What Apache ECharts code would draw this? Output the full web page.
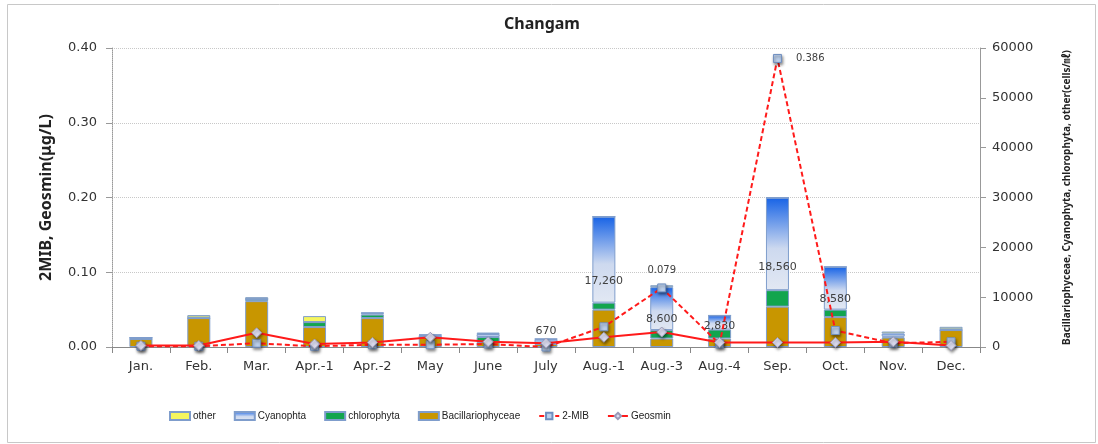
<!DOCTYPE html>
<html>
<head>
<meta charset="utf-8">
<script src="https://cdn.jsdelivr.net/npm/echarts@6/dist/echarts.min.js"></script>
<style>
  html, body { margin: 0; padding: 0; background: #fff; }
  #chart { width: 1098px; height: 444px; }
</style>
</head>
<body>
<div id="chart"></div>
<script>
// months / sampling rounds
const categories = ['Jan.', 'Feb.', 'Mar.', 'Apr.-1', 'Apr.-2', 'May', 'June', 'July', 'Aug.-1', 'Aug.-3', 'Aug.-4', 'Sep.', 'Oct.', 'Nov.', 'Dec.']

// cells/mL (right axis)
const bacillariophyceae = [1600, 5800, 9200, 4000, 5800, 2000, 1000, 600, 7500, 1700, 1700, 8100, 6000, 1900, 3400]
const chlorophyta = [0, 0, 450, 1000, 700, 0, 1000, 300, 1400, 1700, 1800, 3300, 1500, 200, 0]
const cyanophyta = [300, 100, 0, 0, 300, 400, 600, 670, 17260, 8600, 2830, 18560, 8580, 600, 150]
const other = [0, 500, 350, 1200, 100, 100, 300, 100, 0, 400, 0, 0, 0, 400, 500]

// ug/L (left axis)
const mib = [0.001, 0.001, 0.005, 0.001, 0.003, 0.003, 0.004, 0.000, 0.027, 0.079, 0.004, 0.386, 0.022, 0.005, 0.007]
const geosmin = [0.002, 0.002, 0.019, 0.004, 0.006, 0.013, 0.007, 0.005, 0.013, 0.020, 0.006, 0.006, 0.006, 0.007, 0.002]

// which points carry a value label
const cyanoLabelled = ['July', 'Aug.-1', 'Aug.-3', 'Aug.-4', 'Sep.', 'Oct.']
const mibLabelled = ['Aug.-3', 'Sep.']

const barBorder = '#7f9dcc'
const font = 'DejaVu Sans'

const chart = echarts.init(document.getElementById('chart'))

const cyanoData = cyanophyta.map((v, i) => {
  const name = categories[i]
  if (!cyanoLabelled.includes(name)) return v
  return {
    value: v,
    label: {
      show: true,
      position: v < 1000 ? 'top' : ['50%', '75%'],
      align: 'center',
      verticalAlign: 'middle',
      distance: 8,
      formatter: p => p.value.toLocaleString('en-US')
    }
  }
})

const mibData = mib.map((v, i) => {
  const name = categories[i]
  if (!mibLabelled.includes(name)) return v
  return {
    value: v,
    label: {
      show: true,
      position: v > 0.2 ? 'right' : 'top',
      distance: v > 0.2 ? 14 : 8,
      formatter: p => p.value.toFixed(3)
    }
  }
})

const barSeries = (name, data, color) => ({
  name,
  type: 'bar',
  stack: 'cells',
  yAxisIndex: 1,
  barWidth: 23,
  data,
  itemStyle: { color, borderColor: barBorder, borderWidth: 1 },
  label: { color: '#404040', fontFamily: font, fontSize: 11 }
})

const cyanoGradient = new echarts.graphic.LinearGradient(0, 0, 0, 1, [
  { offset: 0, color: '#1763e6' },
  { offset: 0.55, color: '#cdd9ef' },
  { offset: 1, color: '#e2e8f3' }
])

const markerShadow = {
  shadowBlur: 3,
  shadowColor: 'rgba(0,0,0,0.45)',
  shadowOffsetX: 1,
  shadowOffsetY: 2
}

chart.setOption({
  animation: false,
  backgroundColor: '#fff',
  title: {
    text: 'Changam',
    left: 499,
    top: 11,
    textStyle: { fontFamily: 'Noto Sans', fontSize: 16, fontWeight: 'bold', color: '#222' }
  },
  graphic: [{
    type: 'rect',
    left: 5,
    top: 2,
    shape: { width: 1088, height: 438 },
    style: { fill: null, stroke: '#c8c8c8', lineWidth: 1 }
  }],
  legend: {
    left: 164,
    top: 406,
    itemGap: 18,
    itemWidth: 20,
    itemHeight: 8,
    data: [
      { name: 'other', icon: 'rect' },
      { name: 'Cyanophta', icon: 'rect' },
      { name: 'chlorophyta', icon: 'rect' },
      { name: 'Bacillariophyceae', icon: 'rect' },
      '2-MIB',
      'Geosmin'
    ],
    textStyle: { fontFamily: 'Liberation Sans Narrow, Liberation Sans', fontSize: 10, color: '#222', padding: [0, 0, 0, -2] }
  },
  grid: { left: 112, right: 118, top: 48, bottom: 97 },
  xAxis: {
    type: 'category',
    data: categories,
    axisLine: { lineStyle: { color: '#888', width: 1 } },
    axisTick: { show: true, length: 6, lineStyle: { color: '#888' } },
    axisLabel: { fontFamily: font, fontSize: 13, color: '#333', margin: 13 }
  },
  yAxis: [{
    type: 'value',
    min: 0,
    max: 0.4,
    interval: 0.1,
    name: '2MIB, Geosmin(μg/L)',
    nameLocation: 'middle',
    nameRotate: 90,
    nameGap: 58,
    nameTextStyle: { fontFamily: 'Noto Sans', fontSize: 16, fontWeight: 'bold', color: '#222' },
    axisLine: { show: true, lineStyle: { color: '#999', type: 'dotted' } },
    axisTick: { show: true, length: 6, lineStyle: { color: '#999' } },
    axisLabel: { fontFamily: font, fontSize: 13, color: '#333', margin: 15, formatter: v => v.toFixed(2) },
    splitLine: { show: true, lineStyle: { color: '#c8c8c8', type: 'dotted' } }
  }, {
    type: 'value',
    min: 0,
    max: 60000,
    interval: 10000,
    position: 'right',
    name: 'Bacillariophyceae, Cyanophyta, chlorophyta, other(cells/㎖)',
    nameLocation: 'middle',
    nameRotate: 90,
    nameGap: 82,
    nameTextStyle: { fontFamily: 'Noto Sans, Noto Sans CJK KR', fontSize: 10, fontWeight: 'bold', color: '#222', padding: [0, 0, 0, 0] },
    axisLine: { show: true, lineStyle: { color: '#999' } },
    axisTick: { show: true, length: 6, lineStyle: { color: '#999' } },
    axisLabel: { fontFamily: font, fontSize: 13, color: '#333', margin: 12, formatter: v => String(v) },
    splitLine: { show: false }
  }],
  series: [
    barSeries('Bacillariophyceae', bacillariophyceae, '#c89600'),
    barSeries('chlorophyta', chlorophyta, '#12a54e'),
    barSeries('Cyanophta', cyanoData, cyanoGradient),
    barSeries('other', other, '#f6f65e'),
    {
      name: '2-MIB',
      type: 'line',
      yAxisIndex: 0,
      data: mibData,
      symbol: 'rect',
      symbolSize: 8,
      lineStyle: { color: '#ff1a1a', width: 2, type: [5, 3] },
      itemStyle: Object.assign({ color: '#bcd0ec', borderColor: '#6f8fc0', borderWidth: 1 }, markerShadow),
      label: { color: '#404040', fontFamily: font, fontSize: 10 },
      z: 5
    },
    {
      name: 'Geosmin',
      type: 'line',
      yAxisIndex: 0,
      data: geosmin,
      symbol: 'diamond',
      symbolSize: 10,
      lineStyle: { color: '#ff1a1a', width: 2 },
      itemStyle: Object.assign({ color: '#dcdcf0', borderColor: '#9a9ab8', borderWidth: 1 }, markerShadow),
      z: 6
    }
  ]
})
</script>
</body>
</html>
